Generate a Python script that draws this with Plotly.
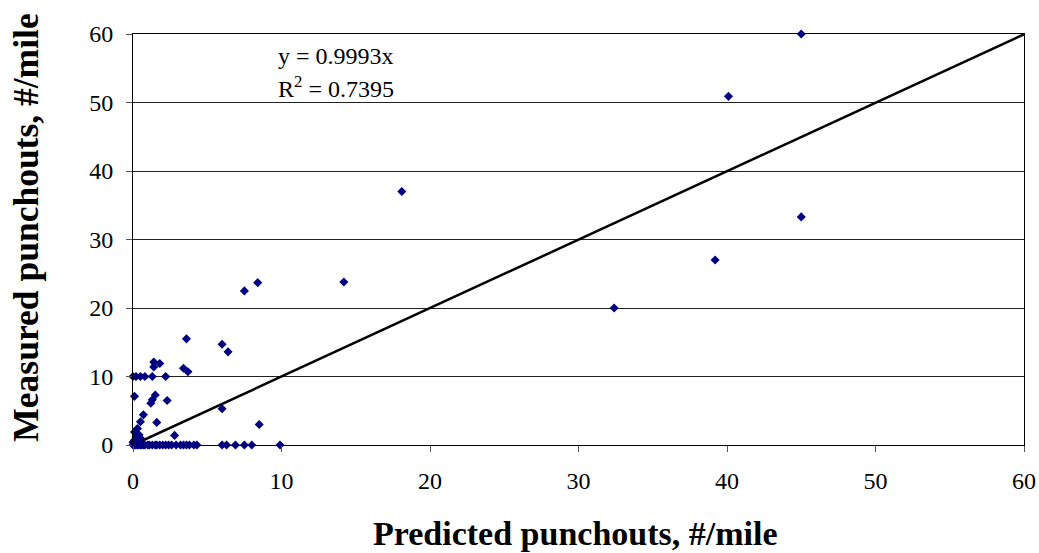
import plotly.graph_objects as go

# Predicted (x) and measured (y) punchouts, #/mile
pred_main = [45.0, 40.1, 45.0, 39.2, 32.4, 18.1, 14.2, 8.4, 7.5, 3.6, 6.0, 6.4,
             1.4, 1.8, 1.4, 3.4, 3.7,
             0.0, 0.2, 0.5, 0.8, 1.3, 2.2,
             0.1, 1.5, 1.3, 1.2, 2.3, 6.0, 0.7, 0.5, 1.6, 0.3, 0.1, 0.4, 2.8, 8.5,
             0.1, 0.5, 0.2, 0.0]
meas_main = [60.0, 50.9, 33.3, 27.0, 20.0, 37.0, 23.8, 23.7, 22.5, 15.5, 14.7, 13.6,
             12.1, 11.9, 11.4, 11.2, 10.7,
             10.0, 10.0, 10.0, 10.0, 10.0, 10.0,
             7.1, 7.3, 6.6, 6.1, 6.5, 5.3, 4.4, 3.4, 3.3, 2.4, 1.9, 1.5, 1.4, 3.0,
             0.7, 1.0, 1.2, 0.4]
pred_zero = [0.0, 0.1, 0.2, 0.3, 0.4, 0.5, 0.6, 0.7, 0.8, 1.0, 1.1, 1.3, 1.5, 1.6,
             1.8, 2.0, 2.2, 2.4, 2.6, 2.9, 3.2, 3.4, 3.6, 3.8, 4.1, 4.3,
             6.0, 6.3, 6.9, 7.5, 8.0, 9.9]
meas_zero = [0.0] * len(pred_zero)

pred = pred_main + pred_zero
meas = meas_main + meas_zero

slope = 0.9993
trend_x = [0, 60]
trend_y = [slope * v for v in trend_x]

x_ticks = [0, 10, 20, 30, 40, 50, 60]
y_ticks = [0, 10, 20, 30, 40, 50, 60]

font_family = "Liberation Serif, Times New Roman, serif"

fig = go.Figure()
fig.add_trace(go.Scatter(x=trend_x, y=trend_y, mode="lines",
                         line=dict(color="black", width=2.5),
                         hoverinfo="skip", showlegend=False))
fig.add_trace(go.Scatter(x=pred, y=meas, mode="markers",
                         marker=dict(symbol="diamond", color="#000080", size=7,
                                     line=dict(width=0)),
                         showlegend=False, cliponaxis=False))

fig.update_layout(
    width=1039, height=553,
    margin=dict(l=133, r=15, t=34, b=108),
    paper_bgcolor="white", plot_bgcolor="white",
    font=dict(family=font_family, size=24, color="black"),
    xaxis=dict(range=[0, 60], tickvals=x_ticks, showgrid=False, zeroline=False,
               automargin=False,
               showline=True, linecolor="black", linewidth=1, mirror=True,
               ticks="outside", ticklen=6, tickcolor="#555555",
               ticklabelstandoff=8, ticklabeloverflow="allow",
               tickfont=dict(family=font_family, size=24)),
    yaxis=dict(range=[0, 60], tickvals=y_ticks, showgrid=True, gridcolor="#222222",
               gridwidth=1, zeroline=False, automargin=False,
               showline=True, linecolor="black", linewidth=1, mirror=True,
               ticks="outside", ticklen=6, tickcolor="#555555",
               ticklabelstandoff=8, ticklabeloverflow="allow",
               tickfont=dict(family=font_family, size=24)),
    annotations=[
        dict(text="y = 0.9993x", x=9.6, y=56.8, xref="x", yref="y",
             xanchor="left", yanchor="middle", showarrow=False,
             font=dict(family=font_family, size=24)),
        dict(text="R<sup>2</sup> = 0.7395", x=9.6, y=52.2, xref="x", yref="y",
             xanchor="left", yanchor="middle", showarrow=False,
             font=dict(family=font_family, size=24)),
        dict(text="<b>Predicted punchouts, #/mile</b>", x=0.497, y=-0.2165,
             xref="paper", yref="paper", xanchor="center", yanchor="middle",
             showarrow=False, font=dict(family=font_family, size=34)),
        dict(text="<b>Measured punchouts, #/mile</b>", x=-0.120, y=0.529,
             xref="paper", yref="paper", xanchor="center", yanchor="middle",
             textangle=-90, showarrow=False,
             font=dict(family=font_family, size=35.5)),
    ],
)

fig.write_html("out.html")
